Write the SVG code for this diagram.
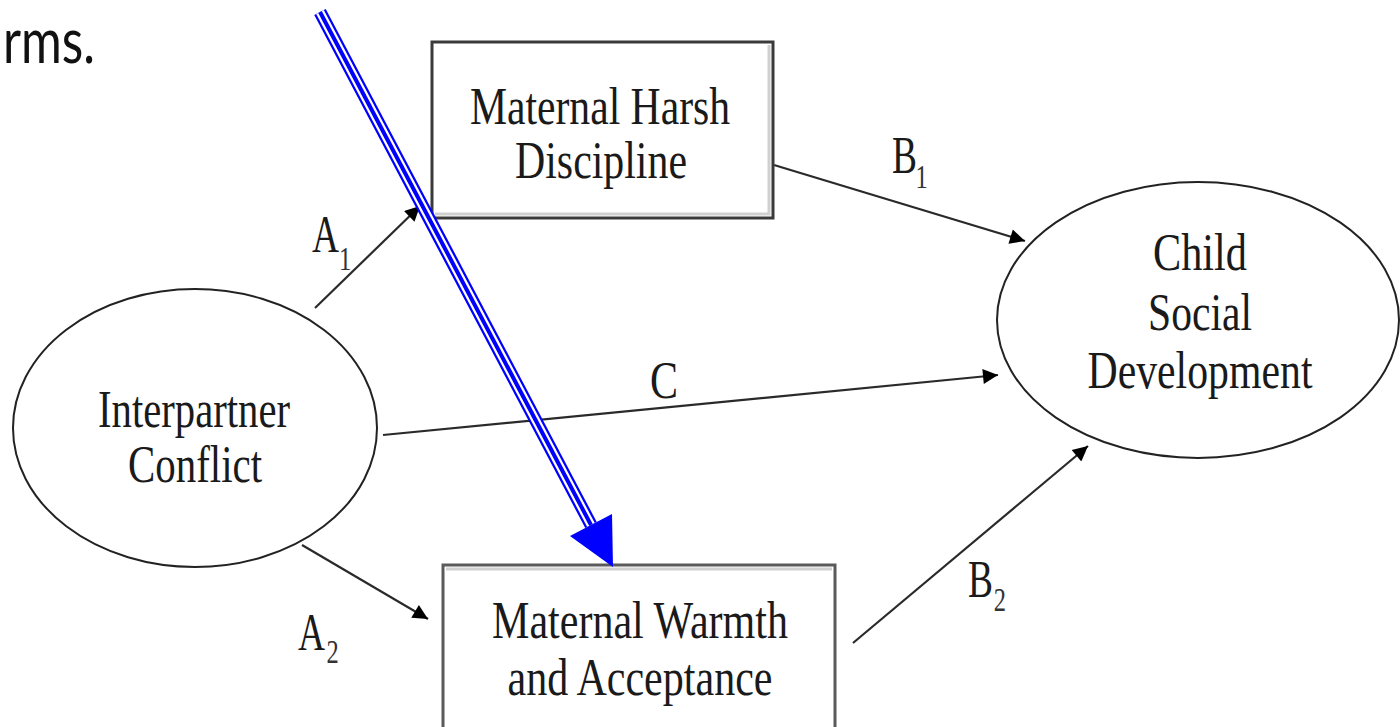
<svg xmlns="http://www.w3.org/2000/svg" width="1400" height="727" viewBox="0 0 1400 727">
  <style>
    .ellipse { stroke: #222222; stroke-width: 2; fill: #ffffff; }
    .box { stroke: #3a3a3a; stroke-width: 3; fill: #ffffff; }
    .box2 { stroke: #5a5a5a; stroke-width: 3; fill: #ffffff; }
    .shade { stroke: #d0d0d0; stroke-width: 3; fill: none; }
    .lbl { font-family: "Liberation Serif", "Times New Roman", serif; font-size: 52px; fill: #1a1a1a; }
    .sub { font-size: 34px; fill: #333333; }
    .conn { stroke: #2a2a2a; stroke-width: 2.2; fill: none; marker-end: url(#arr); }
    .slide { font-family: Lato, "Open Sans", "Noto Sans", sans-serif; font-size: 62px; fill: #111111; }
  </style>
  <defs>
    <marker id="arr" viewBox="0 0 10 10" refX="10" refY="5" markerWidth="20" markerHeight="15" markerUnits="userSpaceOnUse" orient="auto">
      <path d="M0,0 L10,5 L0,10 z" fill="#000000"/>
    </marker>
  </defs>
  <rect width="1400" height="727" fill="#ffffff"/>

  <text class="slide" x="3" y="63" textLength="92" lengthAdjust="spacingAndGlyphs">rms.</text>

  <g id="connectors">
    <line class="conn" x1="315" y1="308" x2="420" y2="206"/>
    <line class="conn" x1="302" y1="545" x2="428" y2="619"/>
    <line class="conn" x1="774" y1="165" x2="1025" y2="241"/>
    <line class="conn" x1="383" y1="435" x2="998" y2="375"/>
    <line class="conn" x1="853" y1="643" x2="1088" y2="446"/>
    <text class="lbl" transform="translate(312,252) scale(0.72,1)">A<tspan class="sub" dy="18">1</tspan></text>
    <text class="lbl" transform="translate(298,650) scale(0.72,1)">A<tspan class="sub" dx="2" dy="13">2</tspan></text>
    <text class="lbl" transform="translate(892,173) scale(0.72,1)">B<tspan class="sub" dx="-2" dy="15">1</tspan></text>
    <text class="lbl" transform="translate(968,597) scale(0.72,1)">B<tspan class="sub" dx="1" dy="14">2</tspan></text>
    <text class="lbl" x="650" y="398" textLength="28" lengthAdjust="spacingAndGlyphs">C</text>
  </g>

  <g id="interpartner-conflict">
    <ellipse class="ellipse" cx="195" cy="428" rx="182" ry="139"/>
    <text class="lbl" x="194" y="427" text-anchor="middle" textLength="192" lengthAdjust="spacingAndGlyphs">Interpartner</text>
    <text class="lbl" x="195" y="482" text-anchor="middle" textLength="134" lengthAdjust="spacingAndGlyphs">Conflict</text>
  </g>

  <g id="maternal-harsh-discipline">
    <rect class="box" x="432" y="42" width="341" height="176"/>
    <path class="shade" d="M435,214 H769 V45"/>
    <text class="lbl" x="600" y="124" text-anchor="middle" textLength="260" lengthAdjust="spacingAndGlyphs">Maternal Harsh</text>
    <text class="lbl" x="601" y="178" text-anchor="middle" textLength="172" lengthAdjust="spacingAndGlyphs">Discipline</text>
  </g>

  <g id="maternal-warmth-acceptance">
    <rect class="box2" x="443" y="565" width="392" height="200"/>
    <path class="shade" d="M446,569 H832"/>
    <text class="lbl" x="640" y="638" text-anchor="middle" textLength="296" lengthAdjust="spacingAndGlyphs">Maternal Warmth</text>
    <text class="lbl" x="640" y="695" text-anchor="middle" textLength="265" lengthAdjust="spacingAndGlyphs">and Acceptance</text>
  </g>

  <g id="child-social-development">
    <ellipse class="ellipse" cx="1198" cy="320" rx="201" ry="138"/>
    <text class="lbl" x="1200" y="270" text-anchor="middle" textLength="94" lengthAdjust="spacingAndGlyphs">Child</text>
    <text class="lbl" x="1200" y="330" text-anchor="middle" textLength="104" lengthAdjust="spacingAndGlyphs">Social</text>
    <text class="lbl" x="1200" y="388" text-anchor="middle" textLength="225" lengthAdjust="spacingAndGlyphs">Development</text>
  </g>

  <g id="annotation-arrow">
    <line x1="320" y1="12" x2="591" y2="525" stroke="#0000ff" stroke-width="13"/>
    <line x1="320" y1="12" x2="591" y2="525" stroke="#ffffff" stroke-width="8.5"/>
    <line x1="320" y1="12" x2="591" y2="525" stroke="#0000ff" stroke-width="4"/>
    <polygon points="613,567 570,536 612,514" fill="#0000ff"/>
  </g>
</svg>
